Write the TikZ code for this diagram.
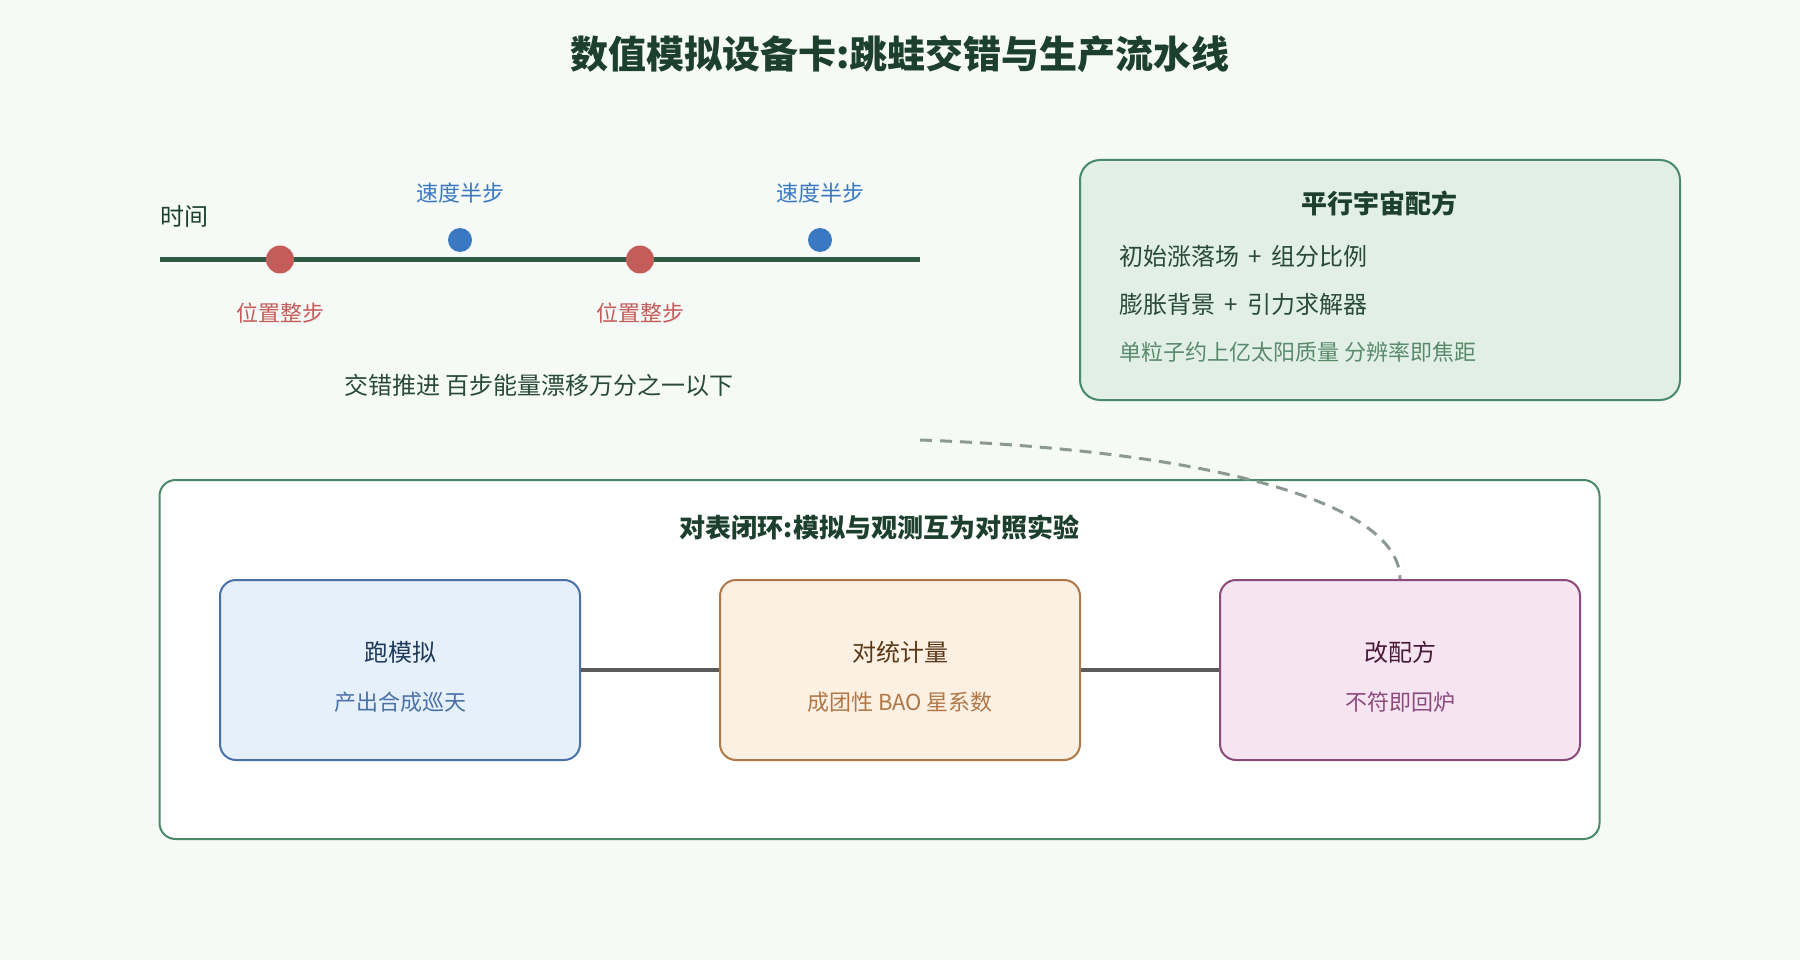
\documentclass[tikz,border=0pt]{standalone}
\usepackage{fontspec}
\setmainfont{Noto Sans CJK SC}
\definecolor{bgmint}{HTML}{F5FAF6}
\definecolor{inkgreen}{HTML}{1C3F2E}
\definecolor{axisgreen}{HTML}{2E5A44}
\definecolor{textgreen}{HTML}{2A4A38}
\definecolor{softgreen}{HTML}{5A8A6C}
\definecolor{framegreen}{HTML}{4A8A6A}
\definecolor{recipefill}{HTML}{E1EFE6}
\definecolor{posred}{HTML}{C45C5A}
\definecolor{velblue}{HTML}{3A78C2}
\definecolor{loopgray}{HTML}{8A9A92}
\definecolor{linkgray}{HTML}{5A5A5A}
\definecolor{runline}{HTML}{4A70A8}
\definecolor{runfill}{HTML}{E6F0FA}
\definecolor{runink}{HTML}{1E3A5A}
\definecolor{matchline}{HTML}{B07848}
\definecolor{matchfill}{HTML}{FCF0E2}
\definecolor{matchink}{HTML}{5A3818}
\definecolor{tuneline}{HTML}{8A4A7C}
\definecolor{tunefill}{HTML}{F6E4F0}
\definecolor{tuneink}{HTML}{4A1A3A}
\newcommand{\fs}[1]{\fontsize{#1pt}{#1pt}\selectfont}
\tikzset{
	txt/.style={inner sep=0pt, font=\fs{24}},
	small/.style={inner sep=0pt, font=\fs{22}},
	head/.style={inner sep=0pt, font=\fs{26}\bfseries, text=inkgreen},
	posdot/.style={circle, fill=posred, inner sep=0pt, minimum size=28pt},
	veldot/.style={circle, fill=velblue, inner sep=0pt, minimum size=24pt},
	stage/.style={draw, line width=2pt, rounded corners=16pt, minimum width=360pt, minimum height=180pt},
	link/.style={draw=linkgray, line width=3.5pt},
	loopback/.style={draw=loopgray, line width=3pt, dash pattern=on 12pt off 8pt}
}
\begin{document}
\begin{tikzpicture}[x=1pt, y=-1pt]
	\fill[bgmint] (0,0) rectangle (1800,960);
	\useasboundingbox (0,0) rectangle (1800,960);
	\node[inner sep=0pt, font=\fs{38}\bfseries, text=inkgreen] (title) at (900,54) {数值模拟设备卡:跳蛙交错与生产流水线};
	% leapfrog time axis
	\coordinate (t0) at (160,259.5);
	\coordinate (t1) at (920,259.5);
	\draw[axisgreen, line width=4.5pt] (t0) -- (t1);
	\node[txt, anchor=west, text=inkgreen] (time) at (160,216) {时间};
	\foreach \x in {280,640} {
		\node[posdot] (pos\x) at (\x,259.5) {};
		\node[small, text=posred] (poslab\x) at (\x,313) {位置整步};
	}
	\foreach \x in {460,820} {
		\node[veldot] (vel\x) at (\x,240) {};
		\node[small, text=velblue] (vellab\x) at (\x,193) {速度半步};
	}
	\node[txt, text=textgreen] (drift) at (539,385) {交错推进 百步能量漂移万分之一以下};
	% recipe card
	\node[draw=framegreen, fill=recipefill, line width=2pt, rounded corners=20pt, minimum width=600pt, minimum height=240pt] (recipe) at (1380,280) {};
	\node[head] (recipehead) at (1379,203) {平行宇宙配方};
	\node[txt, anchor=west, text=textgreen] (ingr1) at (1119,256) {初始涨落场 \,+\, 组分比例};
	\node[txt, anchor=west, text=textgreen] (ingr2) at (1119,304) {膨胀背景 \,+\, 引力求解器};
	\node[small, anchor=west, text=softgreen] (ingr3) at (1119,352) {单粒子约上亿太阳质量 分辨率即焦距};
	% closed loop panel
	\node[draw=framegreen, fill=white, line width=2pt, rounded corners=16pt, minimum width=1440pt, minimum height=359pt] (panel) at (879.5,659.5) {};
	\node[head] (panelhead) at (879.5,527) {对表闭环:模拟与观测互为对照实验};
	\node[stage, draw=runline, fill=runfill] (run) at (400,670) {};
	\node[stage, draw=matchline, fill=matchfill] (match) at (900,670) {};
	\node[stage, draw=tuneline, fill=tunefill] (tune) at (1400,670) {};
	\draw[link] (run) -- (match);
	\draw[link] (match) -- (tune);
	\coordinate (loopstart) at (920,440);
	\draw[loopback] (loopstart) .. controls (1200,450) and (1400,500) .. (tune.north);
	\node[txt, text=runink] (runhead) at (400,652) {跑模拟};
	\node[small, text=runline] (runsub) at (400,702) {产出合成巡天};
	\node[txt, text=matchink] (matchhead) at (900,652) {对统计量};
	\node[small, text=matchline] (matchsub) at (900,702) {成团性 BAO 星系数};
	\node[txt, text=tuneink] (tunehead) at (1400,652) {改配方};
	\node[small, text=tuneline] (tunesub) at (1400,702) {不符即回炉};
\end{tikzpicture}
\end{document}
